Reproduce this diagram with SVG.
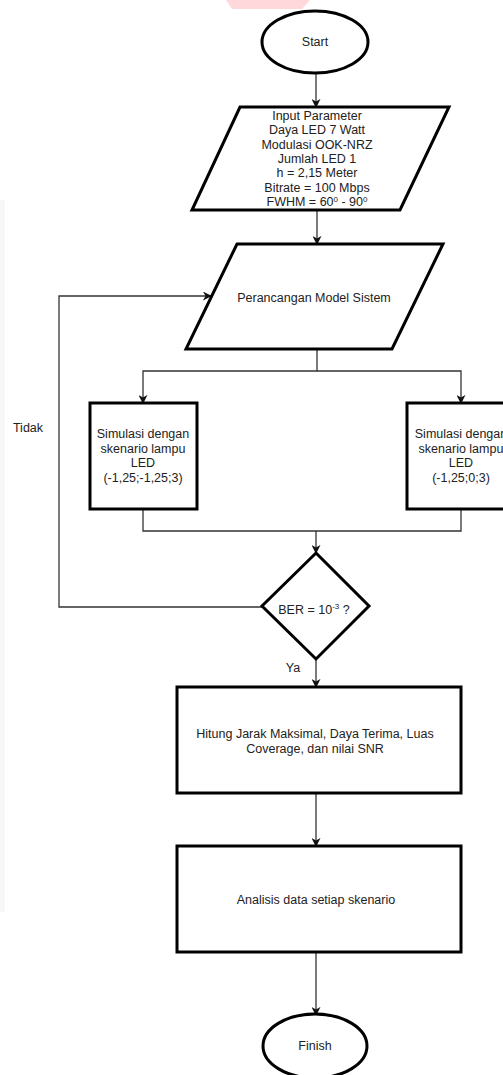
<svg xmlns="http://www.w3.org/2000/svg" width="503" height="1075" viewBox="0 0 503 1075">
<style>
.shape{fill:#fff;stroke:#000;stroke-width:3}
.conn{fill:none;stroke:#333;stroke-width:1.3}
text{font-family:"Liberation Sans",Arial,sans-serif;font-size:12.5px;fill:#222;text-anchor:middle}
</style>
<defs>
<marker id="arr" viewBox="0 0 10 10" refX="9" refY="5" markerWidth="9" markerHeight="9" markerUnits="userSpaceOnUse" orient="auto">
<path d="M0,0 L10,5 L0,10 L3,5 Z" fill="#111"/>
</marker>
</defs>
<rect x="0" y="200" width="5" height="712" fill="#f7f7f7"/>
<polygon points="226,0 310,0 302,9 232,9" fill="#ffd8db"/>
<g id="connectors">
<line class="conn" x1="316" y1="73" x2="316" y2="107" marker-end="url(#arr)"/>
<line class="conn" x1="317" y1="210" x2="317" y2="244" marker-end="url(#arr)"/>
<polyline class="conn" points="317,349 317,371 143,371 143,403" marker-end="url(#arr)"/>
<polyline class="conn" points="317,371 461,371 461,403" marker-end="url(#arr)"/>
<polyline class="conn" points="143,509 143,531 461,531 461,509"/>
<line class="conn" x1="316" y1="531" x2="316" y2="553" marker-end="url(#arr)"/>
<polyline class="conn" points="262,607 59,607 59,296 211,296" marker-end="url(#arr)"/>
<line class="conn" x1="316" y1="659" x2="316" y2="687" marker-end="url(#arr)"/>
<line class="conn" x1="316" y1="793" x2="316" y2="846" marker-end="url(#arr)"/>
<line class="conn" x1="316" y1="952" x2="316" y2="1015" marker-end="url(#arr)"/>
<text x="28" y="432">Tidak</text>
<text x="293" y="672">Ya</text>
</g>
<g id="start">
<ellipse class="shape" cx="315" cy="42" rx="53" ry="31"/>
<text x="315" y="46">Start</text>
</g>
<g id="input">
<polygon class="shape" points="240,107 449,107 400,210 192,210"/>
<text x="317" y="120">Input Parameter</text>
<text x="317" y="134.3">Daya LED 7 Watt</text>
<text x="317" y="148.6">Modulasi OOK-NRZ</text>
<text x="317" y="162.9">Jumlah LED 1</text>
<text x="317" y="177.2">h = 2,15 Meter</text>
<text x="317" y="191.5">Bitrate = 100 Mbps</text>
<text x="317" y="205.8">FWHM = 60<tspan font-size="8" dy="-4">0</tspan><tspan dy="4"> - 90</tspan><tspan font-size="8" dy="-4">0</tspan></text>
</g>
<g id="perancangan">
<polygon class="shape" points="237,244 443,244 392,349 186,349"/>
<text x="314" y="302">Perancangan Model Sistem</text>
</g>
<g id="sim1">
<rect class="shape" x="90" y="403" width="107" height="106"/>
<text x="143" y="438">Simulasi dengan</text>
<text x="143" y="453">skenario lampu</text>
<text x="143" y="467">LED</text>
<text x="143" y="482">(-1,25;-1,25;3)</text>
</g>
<g id="sim2">
<rect class="shape" x="407" y="403" width="107" height="106"/>
<text x="461" y="438">Simulasi dengan</text>
<text x="461" y="453">skenario lampu</text>
<text x="461" y="467">LED</text>
<text x="461" y="482">(-1,25;0;3)</text>
</g>
<g id="decision">
<polygon class="shape" points="316,553 369,606 316,659 262,606"/>
<text x="314" y="614">BER = 10<tspan font-size="8" dy="-5">-3</tspan><tspan dy="5"> ?</tspan></text>
</g>
<g id="hitung">
<rect class="shape" x="177" y="687" width="284" height="106"/>
<text x="315" y="738">Hitung Jarak Maksimal, Daya Terima, Luas</text>
<text x="315" y="753">Coverage, dan nilai SNR</text>
</g>
<g id="analisis">
<rect class="shape" x="177" y="846" width="284" height="106"/>
<text x="316" y="904">Analisis data setiap skenario</text>
</g>
<g id="finish">
<ellipse class="shape" cx="315" cy="1046" rx="52" ry="32"/>
<text x="315" y="1050">Finish</text>
</g>
</svg>
